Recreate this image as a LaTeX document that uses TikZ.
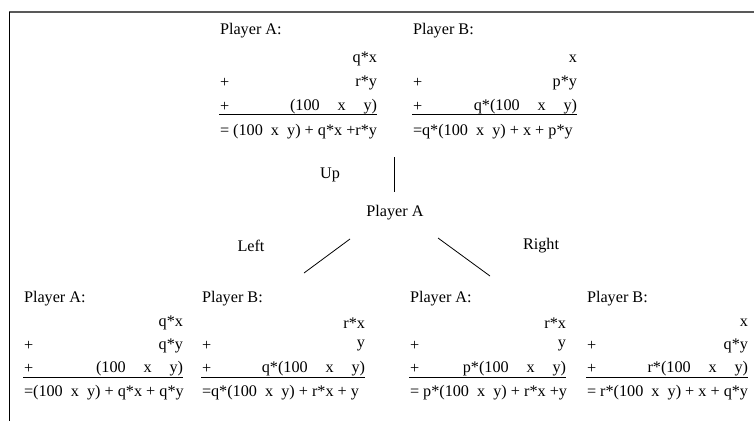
\documentclass[tikz,border=0pt]{standalone}
\usepackage{fontspec}
\setmainfont{Liberation Serif}
\begin{document}
\begin{tikzpicture}[x=1pt,y=-1pt,
  txt/.style={font=\fontsize{16.2}{19}\selectfont, inner sep=0pt, outer sep=0pt},
  lt/.style={txt, anchor=west},
  rt/.style={txt, anchor=east},
  rule/.style={line width=0.8pt},
  edge/.style={line width=0.8pt}]
\useasboundingbox (0,0) rectangle (754,421);
\fill[white] (0,0) rectangle (754,421);
% frame
\draw[line width=1.6pt, black!65] (9,12) -- (754,12);
\draw[line width=1pt] (9,12) -- (9,421);

% ---------- top left: Player A
\node[lt] (tA) at (220,31) {Player A:};
\node[rt] (tA1) at (377,59) {q*x};
\node[lt] (tAp1) at (220,83) {+};
\node[rt] (tA2) at (377,83) {r*y};
\node[lt] (tAp2) at (220,107) {+};
\node[rt] (tA3) at (377,107) {(100\hspace{1.1em}x\hspace{1.1em}y)};
\draw[rule] (219,114.5) -- (377,114.5);
\node[lt] (tAe) at (220,132) {= (100\hspace{0.5em}x\hspace{0.5em}y) + q*x +r*y};

% ---------- top right: Player B
\node[lt] (tB) at (413,31) {Player B:};
\node[rt] (tB1) at (577,59) {x};
\node[lt] (tBp1) at (413,83) {+};
\node[rt] (tB2) at (577,83) {p*y};
\node[lt] (tBp2) at (413,107) {+};
\node[rt] (tB3) at (577,107) {q*(100\hspace{1.1em}x\hspace{1.1em}y)};
\draw[rule] (412,114.5) -- (577,114.5);
\node[lt] (tBe) at (413,132) {=q*(100\hspace{0.5em}x\hspace{0.5em}y) + x + p*y};

% ---------- tree
\coordinate (vtop) at (394,157);
\coordinate (vbot) at (394,192);
\draw[edge] (vtop) -- (vbot);
\node[txt] (up) at (330,175) {Up};
\node[txt] (pA) at (395,213) {Player A};
\coordinate (l1) at (350,239);
\coordinate (l2) at (304,273);
\coordinate (r1) at (438,238);
\coordinate (r2) at (490,276);
\draw[edge] (l1) -- (l2);
\draw[edge] (r1) -- (r2);
\node[txt] (left) at (251,246) {Left};
\node[txt] (right) at (541,246) {Right};

% ---------- bottom 1: Player A
\node[lt] (b1) at (24,299) {Player A:};
\node[rt] (b1a) at (183,323) {q*x};
\node[lt] (b1p1) at (24,346) {+};
\node[rt] (b1b) at (183,346) {q*y};
\node[lt] (b1p2) at (24,369) {+};
\node[rt] (b1c) at (183,369) {(100\hspace{1.1em}x\hspace{1.1em}y)};
\draw[rule] (23,377) -- (183,377);
\node[lt] (b1e) at (24,393) {=(100\hspace{0.5em}x\hspace{0.5em}y) + q*x + q*y};

% ---------- bottom 2: Player B
\node[lt] (b2) at (202,299) {Player B:};
\node[rt] (b2a) at (365,323) {r*x};
\node[lt] (b2p1) at (202,346) {+};
\node[rt] (b2b) at (365,346) {y};
\node[lt] (b2p2) at (202,369) {+};
\node[rt] (b2c) at (365,369) {q*(100\hspace{1.1em}x\hspace{1.1em}y)};
\draw[rule] (201,377) -- (365,377);
\node[lt] (b2e) at (202,393) {=q*(100\hspace{0.5em}x\hspace{0.5em}y) + r*x + y};

% ---------- bottom 3: Player A
\node[lt] (b3) at (410,299) {Player A:};
\node[rt] (b3a) at (566,323) {r*x};
\node[lt] (b3p1) at (410,346) {+};
\node[rt] (b3b) at (566,346) {y};
\node[lt] (b3p2) at (410,369) {+};
\node[rt] (b3c) at (566,369) {p*(100\hspace{1.1em}x\hspace{1.1em}y)};
\draw[rule] (409,377) -- (566,377);
\node[lt] (b3e) at (410,393) {= p*(100\hspace{0.5em}x\hspace{0.5em}y) + r*x +y};

% ---------- bottom 4: Player B
\node[lt] (b4) at (587,299) {Player B:};
\node[rt] (b4a) at (748,323) {x};
\node[lt] (b4p1) at (587,346) {+};
\node[rt] (b4b) at (748,346) {q*y};
\node[lt] (b4p2) at (587,369) {+};
\node[rt] (b4c) at (748,369) {r*(100\hspace{1.1em}x\hspace{1.1em}y)};
\draw[rule] (586,377) -- (748,377);
\node[lt] (b4e) at (587,393) {= r*(100\hspace{0.5em}x\hspace{0.5em}y) + x + q*y};
\end{tikzpicture}
\end{document}
